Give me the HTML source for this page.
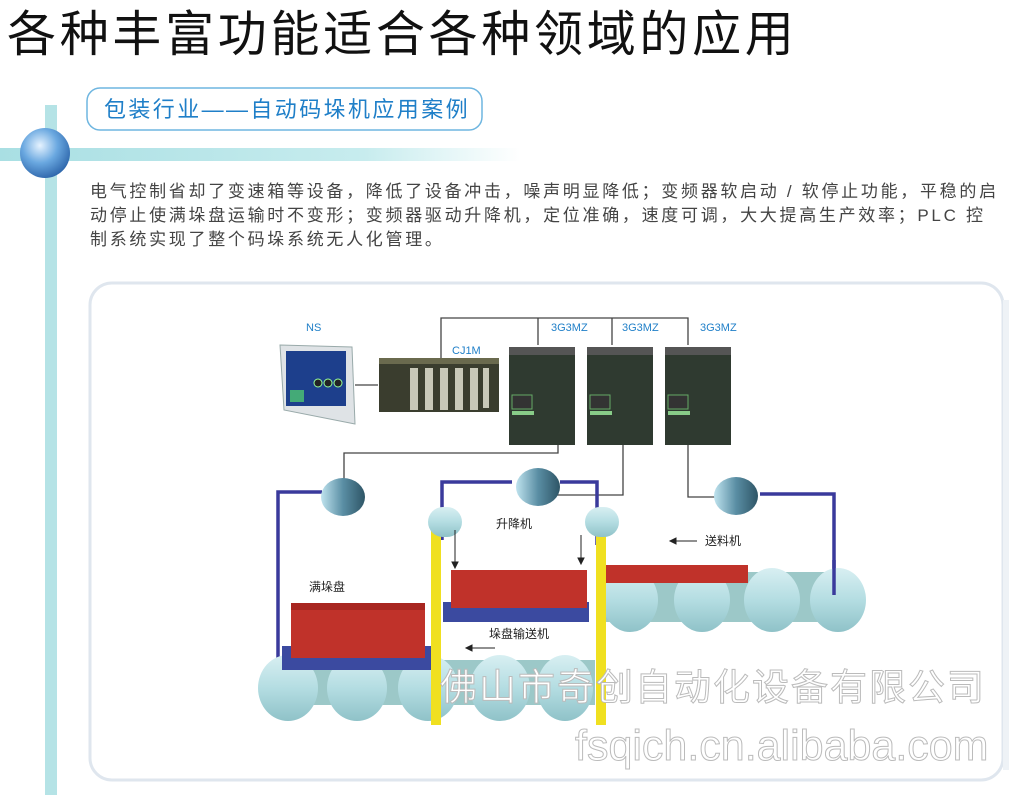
<!DOCTYPE html>
<html><head><meta charset="utf-8"><style>
html,body{margin:0;padding:0;background:#fff;width:1024px;height:795px;overflow:hidden}
svg text{font-family:"Liberation Sans","Noto Sans CJK SC",sans-serif}
</style></head><body>
<svg width="1024" height="795" viewBox="0 0 1024 795" xmlns="http://www.w3.org/2000/svg">
<defs>
<linearGradient id="hb" x1="0" x2="1"><stop offset="0" stop-color="#a9dfe3"/><stop offset="0.7" stop-color="#c7ecee"/><stop offset="1" stop-color="#fff"/></linearGradient>
<radialGradient id="sp" cx="0.4" cy="0.35" r="0.7"><stop offset="0" stop-color="#e6f3ff"/><stop offset="0.5" stop-color="#6aa8e0"/><stop offset="1" stop-color="#2a62a8"/></radialGradient>
<linearGradient id="rl" x1="0" x2="0" y1="0" y2="1"><stop offset="0" stop-color="#d8eff2"/><stop offset="0.5" stop-color="#b4dde2"/><stop offset="1" stop-color="#8fc2c8"/></linearGradient>
<linearGradient id="mt" x1="0" x2="1"><stop offset="0" stop-color="#bfe3ee"/><stop offset="0.5" stop-color="#5a8ea4"/><stop offset="1" stop-color="#2e5566"/></linearGradient>
</defs>
<text x="7" y="51" font-size="49" fill="#111" letter-spacing="3.7">各种丰富功能适合各种领域的应用</text>
<rect x="45" y="105" width="12" height="690" fill="#b5e3e6"/>
<rect x="0" y="148" width="520" height="13" fill="url(#hb)"/>
<circle cx="45" cy="153" r="25" fill="url(#sp)"/>
<rect x="87" y="88" width="395" height="42" rx="13" fill="#fff" stroke="#6fb6e0" stroke-width="1.5"/>
<text x="104" y="117" font-size="22" fill="#1f7fc8" letter-spacing="2.4">包装行业——自动码垛机应用案例</text>
<g font-size="17" fill="#444" letter-spacing="2.7">
<text x="90" y="197">电气控制省却了变速箱等设备，降低了设备冲击，噪声明显降低；变频器软启动 / 软停止功能，平稳的启</text>
<text x="90" y="221">动停止使满垛盘运输时不变形；变频器驱动升降机，定位准确，速度可调，大大提高生产效率；PLC 控</text>
<text x="90" y="245">制系统实现了整个码垛系统无人化管理。</text>
</g>
<rect x="90" y="283" width="913" height="497" rx="22" fill="#fff" stroke="#dfe6ee" stroke-width="3"/>
<rect x="1003" y="300" width="6" height="470" fill="#eef2f6"/>
<g stroke="#444" stroke-width="1.3" fill="none">
<path d="M441 372V318H688V345M538 318V345M612 318V345"/>
<path d="M355 385H378"/>
<path d="M558 445V453H344V482M623 445V495H533V470M688 445V497H735V484"/>
</g>
<text x="306" y="331" font-size="11" fill="#1f7fc8">NS</text>
<text x="452" y="354" font-size="11" fill="#1f7fc8">CJ1M</text>
<text x="551" y="331" font-size="11" fill="#1f7fc8">3G3MZ</text>
<text x="622" y="331" font-size="11" fill="#1f7fc8">3G3MZ</text>
<text x="700" y="331" font-size="11" fill="#1f7fc8">3G3MZ</text>
<path d="M280 345L352 347L355 424L284 410Z" fill="#dfe3e6" stroke="#9aa" />
<rect x="286" y="351" width="60" height="55" fill="#1d3f8c"/>
<circle cx="318" cy="383" r="4" fill="#222" stroke="#9f9"/><circle cx="328" cy="383" r="4" fill="#222" stroke="#9f9"/><circle cx="338" cy="383" r="4" fill="#222" stroke="#9f9"/>
<rect x="290" y="390" width="14" height="12" fill="#4a7"/>
<rect x="379" y="358" width="120" height="54" fill="#3a3d2e"/>
<g fill="#c8c8b8"><rect x="410" y="368" width="8" height="42"/><rect x="425" y="368" width="8" height="42"/><rect x="440" y="368" width="8" height="42"/><rect x="455" y="368" width="8" height="42"/><rect x="470" y="368" width="8" height="42"/><rect x="483" y="368" width="6" height="40"/></g>
<rect x="379" y="358" width="120" height="6" fill="#6a6a4e"/>
<g>
<rect x="509" y="347" width="66" height="98" fill="#2f3a30"/><rect x="509" y="347" width="66" height="8" fill="#555"/>
<rect x="512" y="395" width="20" height="14" fill="#333" stroke="#6a6"/><rect x="512" y="411" width="22" height="4" fill="#8c8"/>
<rect x="587" y="347" width="66" height="98" fill="#2f3a30"/><rect x="587" y="347" width="66" height="8" fill="#555"/>
<rect x="590" y="395" width="20" height="14" fill="#333" stroke="#6a6"/><rect x="590" y="411" width="22" height="4" fill="#8c8"/>
<rect x="665" y="347" width="66" height="98" fill="#2f3a30"/><rect x="665" y="347" width="66" height="8" fill="#555"/>
<rect x="668" y="395" width="20" height="14" fill="#333" stroke="#6a6"/><rect x="668" y="411" width="22" height="4" fill="#8c8"/>
</g>
<g stroke="#3a3a9c" stroke-width="3.5" fill="none">
<path d="M322 492H278V660"/>
<path d="M512 482H442V540M560 482H597V545"/>
<path d="M760 494H834V595"/>
</g>
<rect x="275" y="660" width="320" height="45" fill="#9cc8c8"/>
<g fill="url(#rl)"><ellipse cx="288" cy="688" rx="30" ry="33"/><ellipse cx="357" cy="688" rx="30" ry="33"/><ellipse cx="428" cy="688" rx="30" ry="33"/><ellipse cx="500" cy="688" rx="30" ry="33"/><ellipse cx="565" cy="688" rx="28" ry="33"/></g>
<rect x="605" y="572" width="245" height="50" fill="#9cc8c8"/>
<g fill="url(#rl)"><ellipse cx="630" cy="600" rx="28" ry="32"/><ellipse cx="702" cy="600" rx="28" ry="32"/><ellipse cx="772" cy="600" rx="28" ry="32"/><ellipse cx="838" cy="600" rx="28" ry="32"/></g>
<path d="M834 560V595" stroke="#3a3a9c" stroke-width="3.5"/>
<rect x="282" y="646" width="150" height="24" fill="#3b4aa0"/>
<rect x="291" y="608" width="134" height="50" fill="#c0322a"/><rect x="291" y="603" width="134" height="7" fill="#a82620"/>
<rect x="443" y="602" width="146" height="20" fill="#3b4aa0"/>
<rect x="451" y="570" width="136" height="38" fill="#c0322a"/>
<rect x="606" y="565" width="142" height="18" fill="#c0322a"/>
<rect x="431" y="525" width="10" height="200" fill="#f0e020"/>
<rect x="596" y="525" width="10" height="200" fill="#f0e020"/>
<rect x="428" y="507" width="34" height="30" rx="15" fill="url(#rl)"/>
<rect x="585" y="507" width="34" height="30" rx="15" fill="url(#rl)"/>
<g stroke="#222" stroke-width="1" fill="#222"><path d="M455 530V566"/><path d="M452 562L455 568L458 562Z"/><path d="M581 535V562"/><path d="M578 558L581 564L584 558Z"/>
<path d="M670 541H697"/><path d="M670 541L676 538L676 544Z"/><path d="M468 648H495"/><path d="M466 648L472 645L472 651Z"/></g>
<g><ellipse cx="343" cy="497" rx="22" ry="19" fill="url(#mt)"/><ellipse cx="538" cy="487" rx="22" ry="19" fill="url(#mt)"/><ellipse cx="736" cy="496" rx="22" ry="19" fill="url(#mt)"/></g>
<g font-size="12" fill="#222"><text x="496" y="528">升降机</text><text x="705" y="545">送料机</text><text x="309" y="591">满垛盘</text><text x="489" y="638">垛盘输送机</text></g>
<text x="440" y="700" font-size="37" fill="#fff" stroke="#bbb" stroke-width="1" letter-spacing="2">佛山市奇创自动化设备有限公司</text>
<text x="575" y="760" font-size="43" fill="#fff" stroke="#bbb" stroke-width="1">fsqich.cn.alibaba.com</text>
</svg>
</body></html>
